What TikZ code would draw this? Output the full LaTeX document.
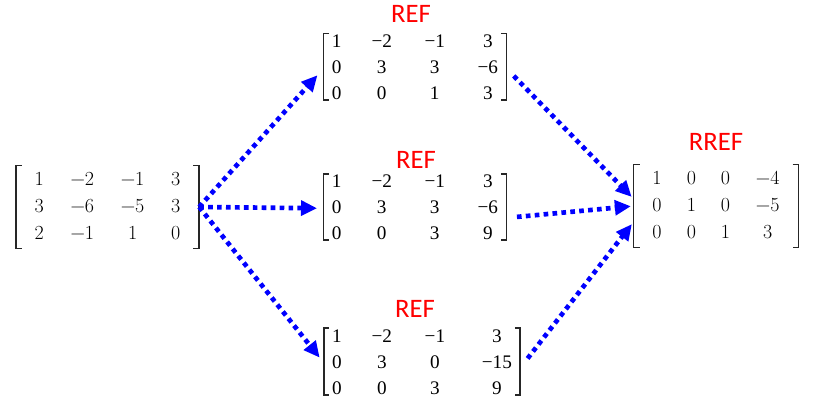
\documentclass[tikz,border=0pt]{standalone}
\usepackage{fontspec}
\usepackage{array}
\newfontfamily\reffont{Liberation Serif}
\newfontfamily\tagfont{Carlito}
\usetikzlibrary{arrows.meta}
\tikzset{
  redmat/.style={inner xsep=6pt, inner ysep=0pt,
    font=\reffont\fontsize{14.4}{19.5}\selectfont},
  fullmat/.style={inner xsep=14pt, inner ysep=0pt,
    font=\fontsize{15}{20.6}\selectfont},
  tag/.style={text=red, inner sep=0pt, font=\tagfont\fontsize{20}{24}\selectfont},
  brk/.style={line width=1.2pt, black!85},
  move/.style={blue, line width=3.5pt, dash pattern=on 3.5pt off 3.2pt,
    -{Triangle[length=12pt,width=11pt]}}
}
\begin{document}
\begin{tikzpicture}[x=0.75pt,y=-0.75pt]
    \def\ga{22.5pt}
    \def\gb{24.45pt}

    \useasboundingbox (0,0) rectangle (820,406) ;

    % start and end matrices
    \node [fullmat] (mA) at (107.5,207) {\begin{tabular}{@{}c@{\hspace{20pt}}c@{\hspace{20pt}}c@{\hspace{20pt}}c@{}}
        1 & −2 & −1 & 3\\
        3 & −6 & −5 & 3\\
        2 & −1 & 1 & 0
      \end{tabular}} ;
    \node [fullmat] (rref) at (716,206) {\begin{tabular}{@{}c@{\hspace{19pt}}c@{\hspace{18.5pt}}c@{\hspace{19.5pt}}c@{}}
        1 & 0 & 0 & −4\\
        0 & 1 & 0 & −5\\
        0 & 0 & 1 & 3
      \end{tabular}} ;
    \foreach \m in {mA,rref} {
      \draw [brk] ([xshift=4.5pt]\m.north west) -| (\m.south west) -- ++(4.5pt,0) ;
      \draw [brk] ([xshift=-4.5pt]\m.north east) -| (\m.south east) -- ++(-4.5pt,0) ;
    }

    % the three echelon forms
    \node [redmat] (r1) at (415,68.3) {\begin{tabular}{@{}c@{\hspace{\ga}}c@{\hspace{\gb}}c@{\hspace{\gb}}c@{}}
        1 & −2 & −1 & 3\\
        0 & 3 & 3 & −6\\
        0 & 0 & 1 & 3
      \end{tabular}} ;
    \node [redmat] (r2) at (415,208.3) {\begin{tabular}{@{}c@{\hspace{\ga}}c@{\hspace{\gb}}c@{\hspace{\gb}}c@{}}
        1 & −2 & −1 & 3\\
        0 & 3 & 3 & −6\\
        0 & 0 & 3 & 9
      \end{tabular}} ;
    \node [redmat] (r3) at (422,362.8) {\begin{tabular}{@{}c@{\hspace{\ga}}c@{\hspace{\gb}}c@{\hspace{27.6pt}}c@{}}
        1 & −2 & −1 & 3\\
        0 & 3 & 0 & −15\\
        0 & 0 & 3 & 9
      \end{tabular}} ;
    \foreach \m in {r1,r2,r3} {
      \draw [brk] ([xshift=4pt,yshift=-3.5pt]\m.north west) -| ([yshift=5.5pt]\m.south west) -- ++(4pt,0) ;
      \draw [brk] ([xshift=-4pt,yshift=-3.5pt]\m.north east) -| ([yshift=5.5pt]\m.south east) -- ++(-4pt,0) ;
    }

    \node [tag] (t1) at (411,14) {REF} ;
    \node [tag] (t2) at (416,160) {REF} ;
    \node [tag] (t3) at (415,309) {REF} ;
    \node [tag] (t4) at (716,142) {RREF} ;

    \draw [move, shorten >=7pt] (mA.east) -- (r1.west) ;
    \draw [move, shorten >=5pt] (mA.east) -- (r2.west) ;
    \draw [move, shorten >=5pt] (mA.east) -- (r3.west) ;
    \draw [move, shorten <=8pt, shorten >=2pt] (r1.east) -- (rref.175) ;
    \draw [move, shorten <=8pt, shorten >=2pt] (r2.-6) -- (rref.west) ;
    \draw [move, shorten <=9pt, shorten >=2pt] (r3.-3) -- (rref.-169) ;

  \end{tikzpicture}
\end{document}
